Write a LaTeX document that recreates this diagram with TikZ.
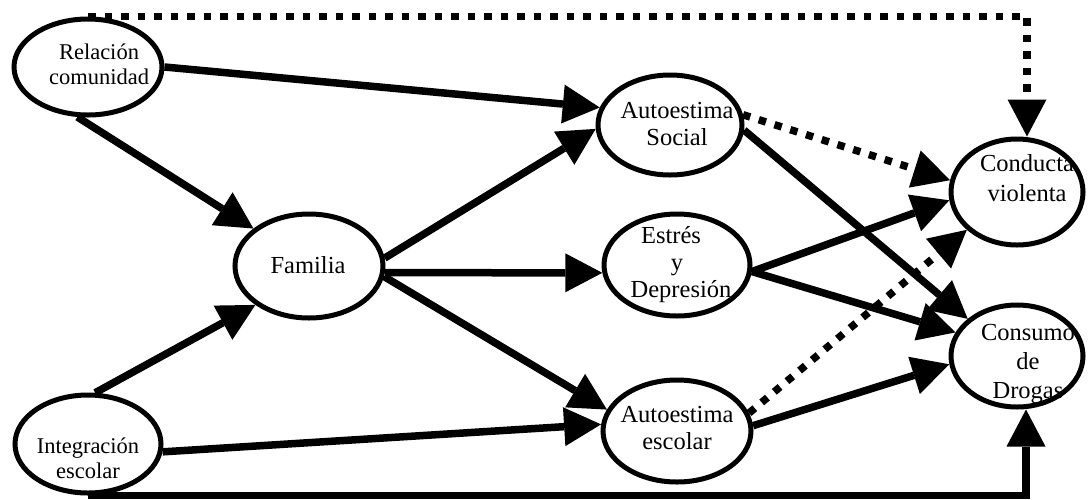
\documentclass[tikz,border=0pt]{standalone}
\usepackage{fontspec}
\setmainfont{Liberation Serif}
\usetikzlibrary{arrows.meta,shapes.geometric}
\begin{document}
\begin{tikzpicture}[x=1pt,y=-1pt,
  ell/.style={draw, line width=5pt, ellipse, inner sep=0pt, fill=white},
  lbl/.style={align=center, inner sep=0pt, font=\fontsize{24.5}{27}\selectfont},
  lbls/.style={lbl, font=\fontsize{22.5}{25}\selectfont},
  arr/.style={line width=7.5pt, -{Triangle[length=37pt,width=39pt,line width=0pt]}},
  dotarr/.style={arr, dash pattern=on 7.5pt off 9pt},
]
\fill[white] (0,0) rectangle (1090,499);
\useasboundingbox (0,0) rectangle (1090,499);

% ellipses
\node[ell, minimum width=148pt, minimum height=96pt]  (rc)  at (88,67)   {};
\node[ell, minimum width=146pt, minimum height=98pt]  (ie)  at (88,444)  {};
\node[ell, minimum width=148pt, minimum height=104pt] (fam) at (309,266) {};
\node[ell, minimum width=144pt, minimum height=100pt] (as)  at (670,125) {};
\node[ell, minimum width=146pt, minimum height=102pt] (ed)  at (677,265) {};
\node[ell, minimum width=148pt, minimum height=102pt] (ae)  at (677,431) {};
\node[ell, minimum width=132pt, minimum height=106pt] (cv)  at (1017,192) {};
\node[ell, minimum width=132pt, minimum height=102pt] (cd)  at (1017,356) {};

% texts
\node[lbls] (rct) at (99,64) {Relación\\comunidad};
\node[lbls] (iet) at (88,458) {Integración\\escolar};
\node[lbl] (famt) at (308,265) {Familia};
\node[lbl] (ast) at (677,124) {Autoestima\\Social};
\node[lbl] (edt) at (671,265) {Estrés\\\hspace*{12pt}y\\\hspace*{20pt}Depresión};
\node[lbl] (aet) at (677,428) {Autoestima\\escolar};
\node[lbl, font=\fontsize{24.5}{30}\selectfont] (cvt) at (1027,178) {Conducta\\violenta};
\node[lbl, font=\fontsize{24.5}{29}\selectfont] (cdt) at (1028,364) {Consumo\\de\\Drogas};

% connectors
\draw[dotarr] (rc.north) -| ([xshift=10pt]cv.north);
\draw[arr] (ie.south) -| ([xshift=9pt]cd.south);
\draw[arr] (rc.east) -- (as.166);
\draw[arr] (rc.-102) -- (fam.146);
\draw[arr] (ie.82) -- (fam.-144);
\draw[arr] (ie.-6) -- (ae.175);
\draw[arr] (fam.6) -- (as.183);
\draw[arr] (fam.-5) -- (ed.186);
\draw[arr] (fam.-8) -- (ae.163);
\draw[dotarr] (as.8) -- (cv.170);
\draw[arr] (as.-4) -- (cd.143);
\draw[arr] (ed.-5) -- (cv.187);
\draw[arr] (ed.-5) -- (cd.159);
\draw[dotarr] (ae.14) -- (cv.217);
\draw[arr] (ae.4) -- (cd.187);
\end{tikzpicture}
\end{document}
